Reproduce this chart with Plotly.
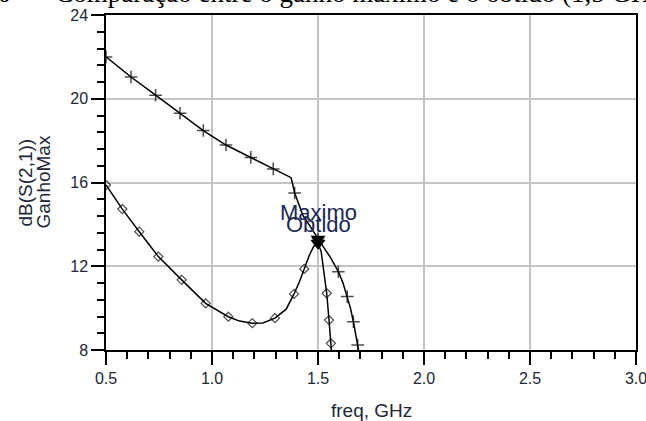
import plotly.graph_objects as go

# ---- data ----
# GanhoMax (upper curve, "+" markers)
max_freq = [0.50, 0.618, 0.734, 0.849, 0.959, 1.066, 1.183, 1.289, 1.373, 1.39, 1.43, 1.46, 1.50,
            1.53, 1.56, 1.58, 1.596, 1.618, 1.638, 1.653, 1.667, 1.687, 1.70]
max_db = [22.0, 21.04, 20.17, 19.31, 18.48, 17.79, 17.20, 16.65, 16.23, 15.5, 14.4, 13.95, 13.3,
          12.85, 12.4, 12.0, 11.74, 11.2, 10.55, 10.0, 9.35, 8.24, 7.5]
max_sym = [1, 1, 1, 1, 1, 1, 1, 1, 0, 1, 0, 0, 1,
           0, 0, 0, 1, 0, 1, 0, 1, 1, 0]

# dB(S(2,1)) (lower curve, diamond markers)
obt_freq = [0.50, 0.577, 0.657, 0.747, 0.857, 0.970, 1.077, 1.13, 1.190, 1.24, 1.297, 1.35, 1.387,
            1.41, 1.435, 1.46, 1.48, 1.50, 1.515, 1.525, 1.535, 1.541, 1.552, 1.561, 1.566]
obt_db = [15.88, 14.73, 13.65, 12.46, 11.35, 10.23, 9.59, 9.38, 9.28, 9.29, 9.52, 9.95, 10.68,
          11.2, 11.87, 12.55, 12.95, 13.1, 12.7, 12.0, 11.3, 10.71, 9.43, 8.32, 7.6]
obt_sym = [1, 1, 1, 1, 1, 1, 1, 0, 1, 0, 1, 0, 1,
           0, 1, 0, 0, 1, 0, 0, 0, 1, 1, 1, 0]

# ADS markers
mk_names = ["Maximo", "Obtido"]
mk_freq = [1.5, 1.5]
mk_db = [13.3, 13.1]
mk_label_shift = [27, 19]

x_ticks = [0.5, 1.0, 1.5, 2.0, 2.5, 3.0]
y_ticks = [8, 12, 16, 20, 24]

title_left = "Figura 10"
title_right = "– Comparação entre o ganho máximo e o obtido (1,5 GHz)"
x_title = "freq, GHz"
y_title_lines = ["dB(S(2,1))", "GanhoMax"]

# ---- figure ----
W, H = 646, 421
L, R, T, B = 106, 10, 15, 71
label_col = "#222635"
sans = "Liberation Sans, Arial, sans-serif"

fig = go.Figure()
fig.add_trace(go.Scatter(
    x=max_freq, y=max_db, mode="lines+markers",
    line=dict(color="black", width=1.5),
    marker=dict(symbol="cross-thin", size=[9 if s else 0 for s in max_sym],
                line=dict(color="black", width=1.5), color="black"),
    showlegend=False, cliponaxis=True))
fig.add_trace(go.Scatter(
    x=obt_freq, y=obt_db, mode="lines+markers",
    line=dict(color="black", width=1.5),
    marker=dict(symbol="diamond-open", size=[7 if s else 0 for s in obt_sym],
                line=dict(color="black", width=1.2), color="black"),
    showlegend=False, cliponaxis=True))
fig.add_trace(go.Scatter(
    x=mk_freq, y=mk_db, mode="markers",
    marker=dict(symbol="triangle-down", size=13, color="black"),
    showlegend=False))

for name, fx, fy, sh in zip(mk_names, mk_freq, mk_db, mk_label_shift):
    fig.add_annotation(x=fx, y=fy, xref="x", yref="y", text=name, showarrow=False,
                       xanchor="center", yanchor="middle", yshift=sh,
                       font=dict(family=sans, size=22, color="#1c2753"))

# axis titles
fig.add_annotation(xref="paper", yref="paper", x=0.5, y=0, yshift=-60,
                   text=x_title, showarrow=False, xanchor="center", yanchor="middle",
                   font=dict(family=sans, size=19, color=label_col))
for txt, px in zip(y_title_lines, [25, 43]):
    fig.add_annotation(xref="paper", yref="paper", x=0, y=0.5, xshift=px - L,
                       text=txt, showarrow=False, textangle=-90,
                       xanchor="center", yanchor="middle",
                       font=dict(family=sans, size=19, color=label_col))

# cut-off caption at the very top
serif = "Liberation Serif, Times New Roman, serif"
fig.add_annotation(xref="paper", yref="paper", x=0, y=1, xshift=13 - L, yshift=5,
                   text=title_left, showarrow=False, xanchor="right", yanchor="bottom",
                   font=dict(family=serif, size=27, color="black"))
fig.add_annotation(xref="paper", yref="paper", x=0, y=1, xshift=32 - L, yshift=5,
                   text=title_right, showarrow=False, xanchor="left", yanchor="bottom",
                   font=dict(family=serif, size=27, color="black"))

axis_common = dict(showline=True, linecolor="black", linewidth=1.5, mirror=True,
                   ticks="outside", ticklen=13, tickwidth=1.5, tickcolor="black",
                   showgrid=True, gridcolor="#c4c4c4", gridwidth=1.5, zeroline=False,
                   automargin=False, ticklabeloverflow="allow",
                   tickfont=dict(family=sans, size=16, color=label_col))
fig.update_xaxes(range=[0.5, 3.0], tickvals=x_ticks, ticktext=[f"{v:.1f}" for v in x_ticks],
                 minor=dict(dtick=0.1, tick0=0.5, ticklen=7, tickwidth=1.5, tickcolor="black",
                            ticks="outside", showgrid=False),
                 **axis_common)
fig.update_yaxes(range=[8, 24], tickvals=y_ticks, ticktext=[str(v) for v in y_ticks],
                 minor=dict(dtick=0.8, tick0=0, ticklen=7, tickwidth=1.5, tickcolor="black",
                            ticks="outside", showgrid=False),
                 **axis_common)

fig.update_layout(width=W, height=H, margin=dict(l=L, r=R, t=T, b=B),
                  plot_bgcolor="white", paper_bgcolor="white")

fig.write_html("out.html")
